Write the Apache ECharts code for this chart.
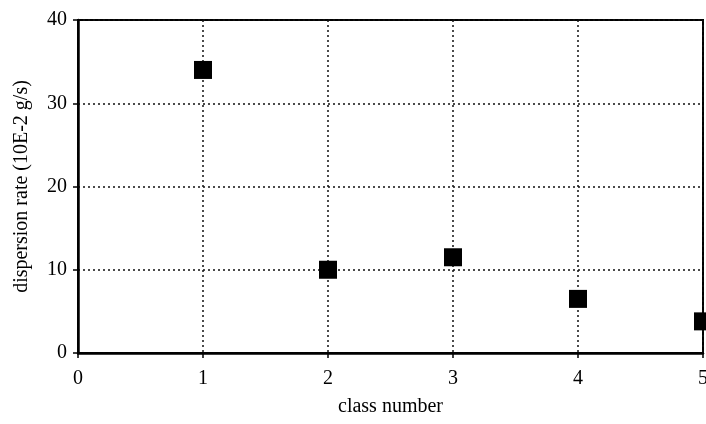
<!DOCTYPE html>
<html>
<head>
<meta charset="utf-8">
<script src="https://cdn.jsdelivr.net/npm/echarts@6/dist/echarts.min.js"></script>
<style>html,body{margin:0;padding:0;background:#fff}#c{width:706px;height:424px}</style>
</head>
<body>
<div id="c"></div>
<script>
var classNumbers = [1, 2, 3, 4, 5];
var dispersionRates = [34, 10, 11.5, 6.5, 3.8];
var xTicks = [0, 1, 2, 3, 4, 5];
var yTicks = [0, 10, 20, 30, 40];

var chart = echarts.init(document.getElementById('c'), null, {renderer: 'canvas'});
var font = '"Liberation Serif", "DejaVu Serif", serif';
chart.setOption({
  animation: false,
  backgroundColor: '#fff',
  grid: {left: 78, right: 3, top: 20, bottom: 71, show: true, borderColor: '#000', borderWidth: 2,
         backgroundColor: 'transparent', containLabel: false, outerBoundsMode: 'none'},
  xAxis: {
    type: 'value', min: xTicks[0], max: xTicks[xTicks.length - 1], interval: 1,
    name: 'class number', nameLocation: 'middle', nameGap: 44,
    nameTextStyle: {fontFamily: font, fontSize: 20, color: '#000'},
    axisLine: {show: true, lineStyle: {color: '#000', width: 2.5}},
    axisTick: {show: true, length: 5, lineStyle: {color: '#000', width: 1.5}},
    axisLabel: {fontFamily: font, fontSize: 20, color: '#000', margin: 16},
    splitLine: {show: true, lineStyle: {color: '#111', type: [2, 3], width: 1.5}}
  },
  yAxis: {
    type: 'value', min: yTicks[0], max: yTicks[yTicks.length - 1], interval: 10,
    name: 'dispersion rate (10E-2 g/s)', nameLocation: 'middle', nameGap: 46, nameRotate: 90,
    nameTextStyle: {fontFamily: font, fontSize: 20, color: '#000'},
    axisLine: {show: true, lineStyle: {color: '#000', width: 2.5}},
    axisTick: {show: true, length: 5, lineStyle: {color: '#000', width: 1.5}},
    axisLabel: {fontFamily: font, fontSize: 20, color: '#000', margin: 11},
    splitLine: {show: true, lineStyle: {color: '#111', type: [2, 3], width: 1.5}}
  },
  series: [{
    type: 'scatter',
    data: classNumbers.map(function (c, i) { return [c, dispersionRates[i]]; }),
    symbol: 'rect', symbolSize: 18,
    itemStyle: {color: '#000', opacity: 1},
    z: 5
  }]
});
</script>
</body>
</html>
